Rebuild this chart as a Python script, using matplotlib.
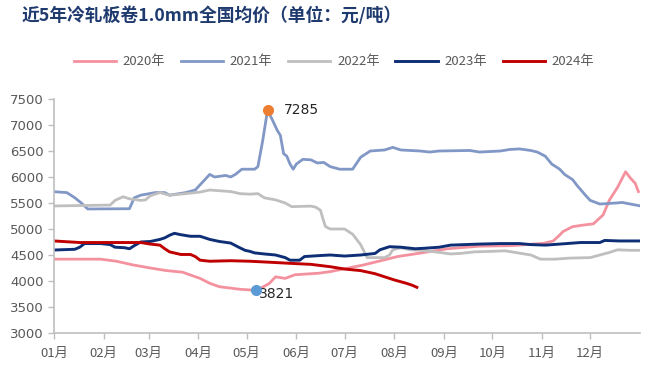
import matplotlib
matplotlib.use("Agg")
import matplotlib.pyplot as plt

plt.rcParams['font.family'] = ['Noto Sans CJK SC', 'DejaVu Sans']

title = "近5年冷轧板卷1.0mm全国均价（单位：元/吨）"
month_labels = ["01月", "02月", "03月", "04月", "05月", "06月",
                "07月", "08月", "09月", "10月", "11月", "12月"]
month_starts = [0, 31, 59, 90, 120, 151, 181, 212, 243, 273, 304, 334]
yticks = [3000, 3500, 4000, 4500, 5000, 5500, 6000, 6500, 7000, 7500]

d2020 = [0, 29, 39, 49, 60, 70, 80, 91, 97, 103, 116, 126, 131, 134, 138, 144, 150, 165, 172,
         193, 214, 234, 245, 265, 285, 305, 311, 315, 317, 323, 330, 336, 342, 346, 351, 356, 359, 362, 364]
v2020 = [4420, 4420, 4380, 4310, 4250, 4200, 4170, 4050, 3956, 3890, 3840, 3821, 3900, 3950, 4080, 4050, 4120, 4150, 4180,
         4310, 4470, 4565, 4620, 4670, 4680, 4725, 4770, 4885, 4950, 5045, 5077, 5100, 5270, 5560, 5800, 6100, 5980, 5880, 5720]

d2021 = [0, 8, 13, 17, 21, 47, 50, 54, 63, 69, 72, 82, 88, 91, 97, 100, 107, 110, 113, 117, 125, 127, 130, 133,
         136, 139, 141, 143, 145, 147, 149, 151, 155, 160, 164, 168, 172, 178, 186, 191, 197, 206, 211, 216, 228, 234,
         240, 259, 265, 278, 284, 290, 297, 301, 306, 310, 315, 318, 323, 326, 331, 334, 340, 350, 354, 359, 365]
v2021 = [5717, 5700, 5600, 5500, 5385, 5390, 5600, 5650, 5700, 5700, 5650, 5700, 5750, 5850, 6050, 6000, 6030, 6000, 6050, 6150, 6150, 6200, 6700, 7285,
         7100, 6900, 6800, 6450, 6400, 6250, 6150, 6250, 6340, 6330, 6270, 6280, 6200, 6150, 6150, 6380, 6500, 6520, 6570, 6520, 6500, 6480,
         6500, 6510, 6480, 6500, 6530, 6540, 6510, 6480, 6400, 6250, 6150, 6050, 5950, 5830, 5650, 5550, 5480, 5500, 5510, 5480, 5445]

d2022 = [0, 35, 38, 43, 47, 54, 57, 60, 66, 72, 82, 91, 97, 110, 116, 122, 127, 131, 138, 144, 148, 160, 163, 166, 167,
         169, 172, 181, 186, 191, 195, 200, 206, 209, 211, 216, 222, 228, 240, 247, 253, 262, 272, 281, 287, 297, 303,
         312, 321, 334, 340, 346, 351, 359, 365]
v2022 = [5443, 5460, 5550, 5620, 5580, 5550, 5560, 5640, 5700, 5650, 5680, 5710, 5750, 5720, 5680, 5670, 5680, 5600, 5560, 5500, 5430, 5440, 5420, 5360, 5250,
         5050, 5000, 5000, 4900, 4700, 4450, 4450, 4450, 4500, 4600, 4640, 4600, 4590, 4550, 4520, 4530, 4560, 4570, 4580, 4550, 4500, 4420,
         4420, 4440, 4450, 4500, 4550, 4600, 4590, 4590]

d2023 = [0, 13, 16, 19, 29, 35, 38, 44, 47, 50, 54, 60, 66, 69, 72, 75, 79, 85, 91, 97, 103, 110, 115, 119, 122, 125,
         131, 138, 144, 147, 153, 156, 166, 172, 181, 191, 200, 203, 209, 216, 225, 231, 240, 247, 256, 265, 278, 290,
         297, 306, 315, 328, 340, 343, 352, 365]
v2023 = [4596, 4610, 4650, 4720, 4720, 4700, 4650, 4640, 4620, 4680, 4750, 4760, 4800, 4830, 4880, 4917, 4890, 4860, 4860, 4800, 4760, 4730, 4650, 4590, 4570, 4540,
         4520, 4500, 4450, 4400, 4400, 4470, 4490, 4500, 4480, 4500, 4530, 4600, 4660, 4650, 4620, 4630, 4650, 4690, 4700, 4710, 4720, 4720,
         4700, 4690, 4710, 4740, 4740, 4780, 4770, 4770]

d2024 = [0, 16, 29, 47, 54, 60, 66, 69, 72, 79, 85, 88, 91, 97, 110, 122, 135, 147, 160, 172, 181, 191, 200, 206,
         212, 219, 223, 226]
v2024 = [4770, 4740, 4740, 4740, 4740, 4710, 4690, 4620, 4560, 4510, 4510, 4470, 4400, 4380, 4390, 4380, 4360, 4340, 4320, 4275, 4230, 4200, 4140, 4080,
         4020, 3960, 3920, 3879]

series_names = ["2020年", "2021年", "2022年", "2023年", "2024年"]
colors = ["#F4919E", "#8197C6", "#BFBFBF", "#0E2F76", "#C00000"]
max_day, max_val = 133, 7285
min_day, min_val = 126, 3821

fig = plt.figure(figsize=(6.6, 3.76), dpi=100)
ax = fig.add_axes([54/660, 1-333/376, (640-54)/660, (333-99)/376])

data = [(d2020, v2020), (d2021, v2021), (d2022, v2022), (d2023, v2023), (d2024, v2024)]
widths = [2.0, 2.0, 2.0, 2.1, 2.1]
for (d, v), name, c, w in zip(data, series_names, colors, widths):
    ax.plot(d, v, color=c, lw=w, label=name, solid_joinstyle='round')

ax.plot([max_day], [max_val], 'o', color="#ED7D31", ms=7, zorder=5)
ax.annotate(str(max_val), (max_day, max_val), xytext=(12, 0), textcoords='offset points',
            va='center', ha='left', fontsize=10, color="#262626", family=['DejaVu Sans'])
ax.plot([min_day], [min_val], 'o', color="#5B9BD5", ms=7, zorder=5)
ax.annotate(str(min_val), (min_day, min_val), xytext=(2, -3), textcoords='offset points',
            va='center', ha='left', fontsize=10, color="#262626", family=['DejaVu Sans'])

ax.set_xlim(0, 365)
ax.set_ylim(3000, 7500)
ax.set_yticks(yticks)
ax.set_xticks(month_starts)
ax.set_xticklabels(month_labels)
ax.tick_params(axis='both', colors="#BFBFBF", labelcolor="#595959", labelsize=9.5, length=4, width=1)
ax.tick_params(axis='x', pad=6)
for lab in ax.get_yticklabels():
    lab.set_family(['DejaVu Sans'])
for s in ['top', 'right']:
    ax.spines[s].set_visible(False)
for s in ['left', 'bottom']:
    ax.spines[s].set_color("#BFBFBF")
    ax.spines[s].set_linewidth(1.2)

fig.legend(loc='center', bbox_to_anchor=(334/660, 1-62/376), ncol=5, frameon=False,
           fontsize=9.5, handlelength=3.2, columnspacing=1.2, handletextpad=0.5,
           labelcolor="#595959")

fig.text(22/660, 1-16/376, title, fontsize=12.8, fontweight='bold', color="#1F3A6E",
         va='center', ha='left')

fig.savefig("out.png", dpi=100)
